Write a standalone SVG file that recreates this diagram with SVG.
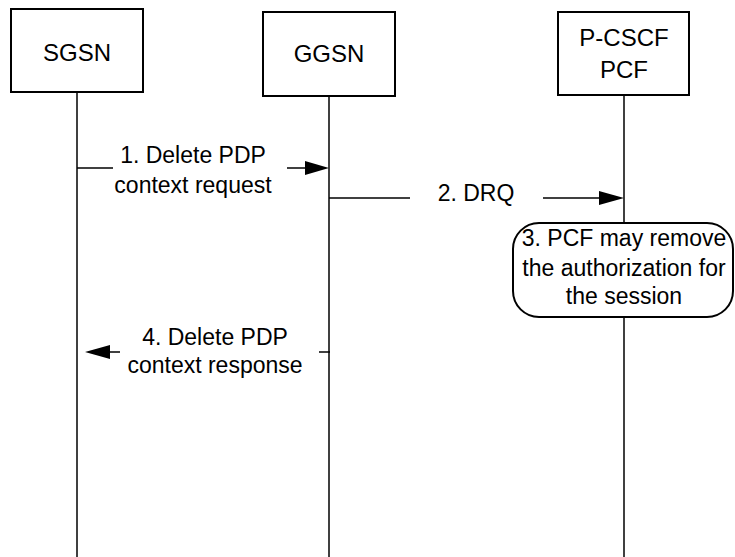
<svg xmlns="http://www.w3.org/2000/svg" width="735" height="557" viewBox="0 0 735 557">
<style>
.box{fill:#fff;stroke:#000;stroke-width:2}
.life{stroke:#000;stroke-width:1.5;fill:none}
.msg{stroke:#000;stroke-width:1.5;fill:none}
.head{fill:#000;stroke:none}
text{font-family:"Liberation Sans",Arial,sans-serif;font-size:23px;fill:#000;text-anchor:middle}
.lbl{font-size:24px}
</style>
<rect width="735" height="557" fill="#fff"/>
<g id="lifelines">
<line class="life" x1="77" y1="92" x2="77" y2="557"/>
<line class="life" x1="329" y1="96" x2="329" y2="557"/>
<line class="life" x1="624" y1="95" x2="624" y2="557"/>
</g>
<g id="sgsn">
<rect class="box" x="11" y="9" width="132" height="83"/>
<text class="lbl" x="77" y="61">SGSN</text>
</g>
<g id="ggsn">
<rect class="box" x="263" y="12" width="132" height="84"/>
<text class="lbl" x="329" y="62">GGSN</text>
</g>
<g id="pcscf">
<rect class="box" x="558" y="12" width="131" height="83"/>
<text class="lbl" x="624" y="46">P-CSCF</text>
<text class="lbl" x="624" y="78">PCF</text>
</g>
<g id="connectors">
<line class="msg" x1="77" y1="168" x2="113" y2="168"/>
<line class="msg" x1="287" y1="168" x2="306" y2="168"/>
<polygon class="head" points="305,161 329,168 305,175"/>
<line class="msg" x1="329" y1="198" x2="410" y2="198"/>
<line class="msg" x1="543" y1="198" x2="600" y2="198"/>
<polygon class="head" points="599,191 624,198 599,205"/>
<line class="msg" x1="330" y1="352" x2="319" y2="352"/>
<line class="msg" x1="120" y1="352" x2="109" y2="352"/>
<polygon class="head" points="110,345 85,352 110,359"/>
</g>
<g id="labels">
<text x="193" y="163">1. Delete PDP</text>
<text x="193" y="193">context request</text>
<text x="476" y="201">2. DRQ</text>
<text x="215" y="345">4. Delete PDP</text>
<text x="215" y="373">context response</text>
</g>
<g id="step3">
<rect class="box" x="513" y="223" width="220" height="94" rx="26" ry="26"/>
<text x="624" y="246">3. PCF may remove</text>
<text x="624" y="276">the authorization for</text>
<text x="624" y="304">the session</text>
</g>
</svg>
